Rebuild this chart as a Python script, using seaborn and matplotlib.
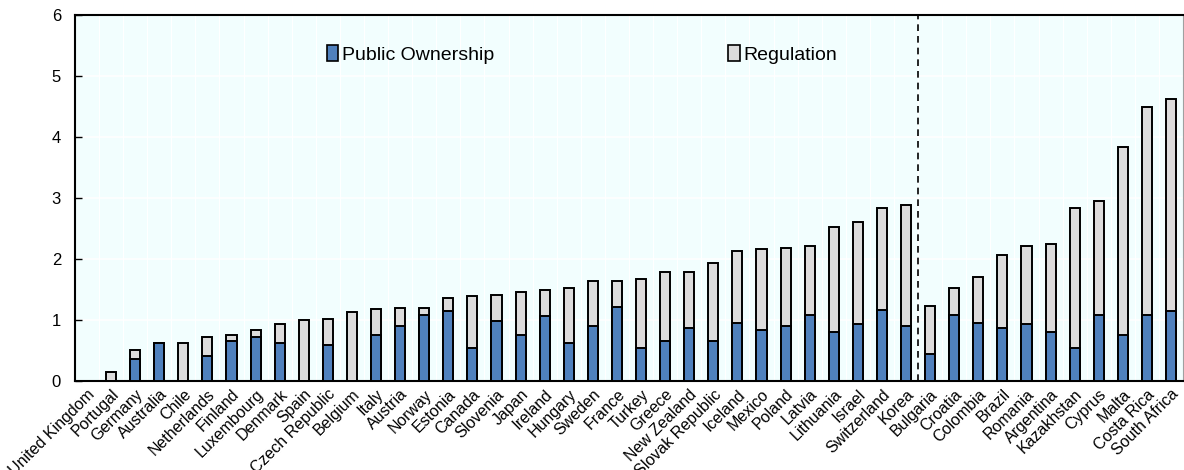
import numpy as np
import pandas as pd
import matplotlib
matplotlib.use("Agg")
import matplotlib.pyplot as plt
import seaborn as sns
from matplotlib.patches import Patch

countries = ["United Kingdom", "Portugal", "Germany", "Australia", "Chile", "Netherlands",
             "Finland", "Luxembourg", "Denmark", "Spain", "Czech Republic", "Belgium",
             "Italy", "Austria", "Norway", "Estonia", "Canada", "Slovenia", "Japan",
             "Ireland", "Hungary", "Sweden", "France", "Turkey", "Greece", "New Zealand",
             "Slovak Republic", "Iceland", "Mexico", "Poland", "Latvia", "Lithuania",
             "Israel", "Switzerland", "Korea", "Bulgaria", "Croatia", "Colombia", "Brazil",
             "Romania", "Argentina", "Kazakhstan", "Cyprus", "Malta", "Costa Rica",
             "South Africa"]

# total indicator (public ownership + regulation)
total = [0.0, 0.15, 0.51, 0.63, 0.63, 0.72, 0.75, 0.84, 0.93, 1.0, 1.02, 1.14,
         1.18, 1.20, 1.20, 1.37, 1.39, 1.42, 1.46, 1.49, 1.52, 1.64, 1.64, 1.67,
         1.79, 1.79, 1.94, 2.13, 2.16, 2.18, 2.21, 2.52, 2.61, 2.83, 2.88, 1.24,
         1.52, 1.70, 2.06, 2.22, 2.25, 2.83, 2.95, 3.83, 4.50, 4.62]

public = [0.0, 0.0, 0.36, 0.63, 0.0, 0.41, 0.66, 0.72, 0.62, 0.0, 0.60, 0.0,
          0.75, 0.90, 1.08, 1.15, 0.54, 0.99, 0.75, 1.06, 0.63, 0.91, 1.21, 0.54,
          0.66, 0.87, 0.66, 0.96, 0.84, 0.91, 1.09, 0.81, 0.93, 1.17, 0.90, 0.44,
          1.09, 0.96, 0.87, 0.93, 0.81, 0.54, 1.09, 0.75, 1.09, 1.15]

df = pd.DataFrame({"country": countries, "total": total, "public": public})

blue = "#4F81BD"
grey = "#DCDCDC"

sns.set_style("white")
plt.rcParams["font.family"] = ["Liberation Sans", "DejaVu Sans"]
plt.rcParams["text.color"] = "black"
plt.rcParams["xtick.color"] = "black"
plt.rcParams["ytick.color"] = "black"

fig = plt.figure(figsize=(11.84, 4.70), dpi=100)
ax = fig.add_axes([0.0633, 0.189, 0.9359, 0.779])
ax.set_facecolor("#F2FEFE")

sns.barplot(data=df, x="country", y="total", color=grey, edgecolor="black",
            linewidth=1.4, width=0.42, saturation=1, ax=ax, zorder=3)
sns.barplot(data=df, x="country", y="public", color=blue, edgecolor="black",
            linewidth=1.4, width=0.42, saturation=1, ax=ax, zorder=4)

n = len(countries)
ax.set_xlim(-0.5, n - 0.5)
ax.set_ylim(0, 6)
ax.set_yticks(range(0, 7))
ax.set_xlabel("")
ax.set_ylabel("")

ax.set_xticks(np.arange(n))
ax.set_xticklabels(countries, rotation=45, ha="right", rotation_mode="anchor", fontsize=11.5)
ax.set_xticks(np.arange(0.5, n - 0.5), minor=True)
ax.tick_params(axis="x", which="major", length=0, pad=4)
ax.tick_params(axis="x", which="minor", direction="in", length=4, width=1, color="black")
ax.tick_params(axis="y", direction="in", length=5, width=1, labelsize=12, pad=10, left=True)

ax.grid(axis="y", color="white", linewidth=1.2, zorder=0)
ax.grid(axis="x", which="minor", color="white", linewidth=0.8, zorder=0)
ax.set_axisbelow(True)

for s in ["left", "bottom", "top"]:
    ax.spines[s].set_linewidth(1.5)
    ax.spines[s].set_color("black")
ax.spines["right"].set_linewidth(0.8)
ax.spines["right"].set_color("#A0A0A0")

ax.axvline(34.5, color="black", linestyle=(0, (4, 3)), linewidth=1.2, zorder=5)

handles = [Patch(facecolor=blue, edgecolor="black", linewidth=1.2, label="Public Ownership"),
           Patch(facecolor=grey, edgecolor="black", linewidth=1.2, label="Regulation")]
ax.legend(handles=handles, ncol=2, frameon=False, loc="upper left",
          bbox_to_anchor=(0.2114, 0.965), fontsize=14, handlelength=0.6,
          handleheight=0.85, handletextpad=0.2, columnspacing=12.0)

fig.savefig("out.png", dpi=100)
